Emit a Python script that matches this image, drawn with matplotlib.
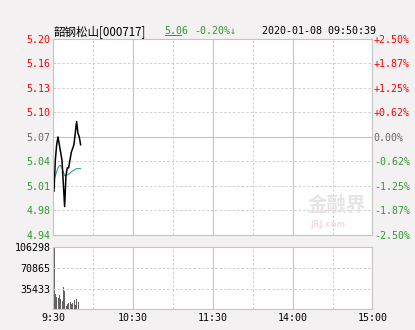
import numpy as np
import matplotlib
matplotlib.use('Agg')
import matplotlib.pyplot as plt
from matplotlib.lines import Line2D

# header
stock_name = '韶钢松山[000717]'
last_px = '5.06'
chg_txt = '-0.20%↓'
stamp = '2020-01-08 09:50:39'

prev_close = 5.07
pct_levels = [2.50, 1.87, 1.25, 0.62, 0.00, -0.62, -1.25, -1.87, -2.50]
px_labels = ['5.20', '5.16', '5.13', '5.10', '5.07', '5.04', '5.01', '4.98', '4.94']
pct_labels = ['+2.50%', '+1.87%', '+1.25%', '+0.62%', '0.00%', '-0.62%', '-1.25%', '-1.87%', '-2.50%']

# minute data 9:30 .. 9:50
price = [5.00, 5.04, 5.06, 5.07, 5.06, 5.05, 5.04, 5.01, 4.98, 5.02, 5.03,
         5.03, 5.04, 5.05, 5.055, 5.06, 5.075, 5.09, 5.075, 5.07, 5.06]
avg_price = [5.015, 5.02, 5.025, 5.03, 5.033, 5.033, 5.03, 5.025, 5.02, 5.02, 5.021,
             5.022, 5.023, 5.025, 5.026, 5.027, 5.028, 5.029, 5.029, 5.029, 5.029]
volume = [106298, 26200, 21600, 18900, 24500, 17100, 14200, 37700, 31900, 6000,
          9100, 10300, 13000, 9100, 10800, 16000, 7400, 17100, 13000]
vol_labels = ['106298', '70865', '35433']
time_labels = ['9:30', '10:30', '11:30', '14:00', '15:00']

RED = '#ff0000'
GREEN = '#2e9a2e'
GREY = '#666666'
BORDER = '#c4c4c4'
DASH = '#cfcfcf'
mono = 'DejaVu Sans Mono'

fig = plt.figure(figsize=(4.15, 3.3), dpi=100)
fig.patch.set_facecolor('#f3f1f1')

ax = fig.add_axes([0.1285, 0.288, 0.769, 0.594])
axv = fig.add_axes([0.1285, 0.063, 0.769, 0.188])

n_min = 240
for a in (ax, axv):
    a.set_xlim(0, n_min)
    a.set_facecolor('white')
    for s in a.spines.values():
        s.set_color(BORDER)
        s.set_linewidth(0.8)
    for m in range(30, n_min, 30):
        if m % 60 == 0:
            a.axvline(m, color=BORDER, lw=0.8)
        else:
            a.axvline(m, color=DASH, lw=0.7, ls=(0, (2.5, 2)))
    a.tick_params(length=0)

# price panel
lvl_px = [prev_close * (1 + p / 100) for p in np.linspace(2.5, -2.5, 9)]
ax.set_ylim(lvl_px[-1], lvl_px[0])
for i, y in enumerate(lvl_px[1:-1], 1):
    if i == 4:
        ax.axhline(y, color=BORDER, lw=0.8)
    else:
        ax.axhline(y, color=DASH, lw=0.7, ls=(0, (2.5, 2)))

# watermark
ax.text(0.89, 0.15, '金融界', transform=ax.transAxes, ha='center', va='center',
        fontsize=14, family=['Noto Sans CJK SC'], color='#e8e4e4', fontweight='bold')
ax.text(0.86, 0.055, 'JRJ.com', transform=ax.transAxes, ha='center', va='center',
        fontsize=6, color='#f0e0e0', fontweight='bold')

xs = np.arange(len(price)) + 0.5
ax.plot(xs, avg_price, color='#2e9c98', lw=0.8)
ax.plot(xs, price, color='black', lw=1.1)

ax.set_xticks([])
ax.set_yticks(lvl_px)
ax.set_yticklabels(px_labels, fontsize=7.2, family=mono)
ax.tick_params(axis='y', pad=2)
ax2 = ax.twinx()
ax2.set_ylim(ax.get_ylim())
ax2.set_yticks(lvl_px)
ax2.set_yticklabels(pct_labels, fontsize=7.2, family=mono)
ax2.tick_params(length=0, pad=1)
for s in ax2.spines.values():
    s.set_visible(False)


def tone(i):
    if i < 4:
        return RED
    if i == 4:
        return GREY
    return GREEN


for i, t in enumerate(ax.get_yticklabels()):
    t.set_color(tone(i))
for i, t in enumerate(ax2.get_yticklabels()):
    t.set_color(tone(i))

# volume panel
vmax = max(volume)
axv.set_ylim(0, vmax)
for k in (1, 2):
    axv.axhline(vmax * k / 3, color=DASH, lw=0.7, ls=(0, (2.5, 2)))
axv.bar(np.arange(len(volume)) + 0.7, volume, width=0.8, color='#626262')
axv.set_yticks([vmax, vmax * 2 / 3, vmax / 3])
axv.set_yticklabels(vol_labels, fontsize=7.2, family=mono)
axv.tick_params(axis='y', pad=2)
axv.set_xticks([0, 60, 120, 180, 240])
axv.set_xticklabels(time_labels, fontsize=7.2, family=mono)
axv.tick_params(axis='x', pad=3)

# header
cjk = ['Noto Sans CJK SC', 'DejaVu Sans']
fig.text(0.128, 0.905, stock_name, fontsize=8.3, family=cjk, va='center')
fig.text(0.395, 0.905, last_px, fontsize=7.2, family=mono, color=GREEN, va='center')
fig.add_artist(Line2D([0.397, 0.436], [0.893, 0.893], color=GREEN, lw=0.7))
fig.text(0.467, 0.905, chg_txt, fontsize=7.2, family=mono, color=GREEN, va='center')
fig.text(0.631, 0.905, stamp, fontsize=7.2, family=mono, va='center')

fig.savefig('out.png', dpi=100, facecolor=fig.get_facecolor())
